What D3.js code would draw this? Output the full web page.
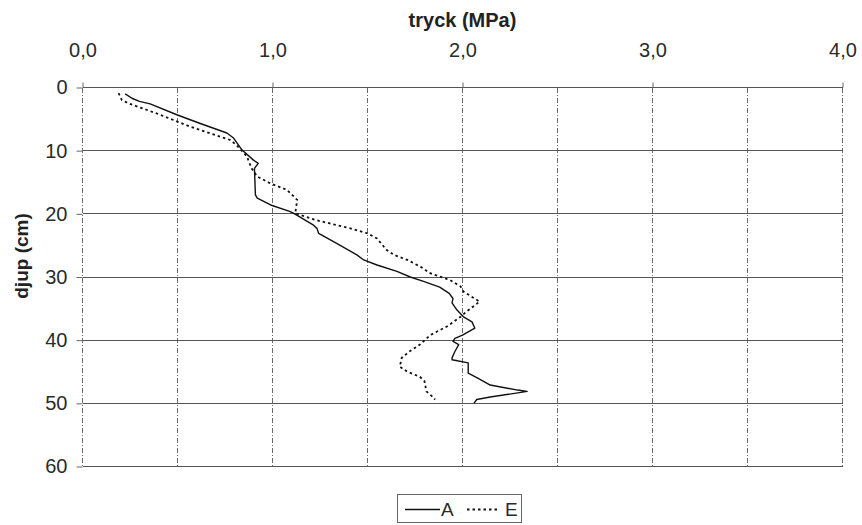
<!DOCTYPE html>
<html>
<head>
<meta charset="utf-8">
<script src="https://cdn.jsdelivr.net/npm/d3@7"></script>
<style>
  html, body { margin: 0; padding: 0; background: #fff; }
  svg { display: block; font-family: "Liberation Sans", Arial, sans-serif; }
</style>
</head>
<body>
<svg id="chart" width="862" height="525"></svg>
<script>
// ---- data ----
const xTicks = [0, 1, 2, 3, 4];
const xTickLabels = ["0,0", "1,0", "2,0", "3,0", "4,0"];
const yTicks = [0, 10, 20, 30, 40, 50, 60];
const seriesNames = ["A", "E"];

const depthA = [1.0, 1.7, 2.2, 2.6, 4.35, 5.7, 7.2, 8.0, 9.9, 11.5, 12.0, 12.8, 17.0, 17.5, 18.6, 19.6, 19.9, 21.8, 22.3, 23.1, 24.7, 26.5, 27.3, 28.1, 29.1, 30.0, 30.7, 31.6, 32.6, 33.4, 34.1, 35.2, 36.3, 37.1, 38.1, 39.2, 39.7, 40.2, 40.7, 41.8, 42.8, 43.1, 43.6, 45.2, 46.0, 47.1, 47.9, 48.1, 48.3, 49.0, 49.4, 50.0];
const pressureA = [0.225, 0.26, 0.30, 0.356, 0.50, 0.62, 0.76, 0.795, 0.84, 0.90, 0.925, 0.905, 0.91, 0.92, 0.99, 1.09, 1.11, 1.216, 1.234, 1.243, 1.34, 1.444, 1.48, 1.55, 1.655, 1.725, 1.795, 1.88, 1.93, 1.95, 1.945, 1.97, 2.005, 2.05, 2.065, 2.0, 1.96, 1.95, 1.98, 1.96, 1.945, 1.945, 2.03, 2.03, 2.08, 2.146, 2.29, 2.34, 2.30, 2.146, 2.075, 2.06];

const depthE = [0.9, 2.0, 2.6, 4.1, 6.2, 8.3, 9.1, 10.9, 12.8, 14.1, 15.2, 16.2, 17.8, 19.9, 21.0, 22.3, 23.1, 23.9, 25.7, 26.5, 27.3, 28.4, 29.4, 30.5, 31.5, 32.3, 33.9, 35.5, 36.3, 37.8, 39.2, 40.7, 41.8, 42.8, 44.2, 45.0, 45.8, 46.5, 48.1, 48.9, 49.4];
const pressureE = [0.19, 0.207, 0.25, 0.39, 0.567, 0.777, 0.81, 0.865, 0.89, 0.92, 0.99, 1.076, 1.13, 1.12, 1.23, 1.41, 1.50, 1.55, 1.60, 1.64, 1.71, 1.78, 1.83, 1.935, 1.99, 2.005, 2.09, 2.02, 1.99, 1.92, 1.83, 1.776, 1.72, 1.68, 1.67, 1.71, 1.776, 1.80, 1.81, 1.84, 1.856];

// ---- layout ----
const svg = d3.select("#chart");
const x = d3.scaleLinear().domain([0, 4]).range([82.5, 842.5]);
const y = d3.scaleLinear().domain([0, 60]).range([87.5, 466.5]);

// vertical grid (dashed) every 0.5
const vGrid = d3.range(0, 4.01, 0.5);
svg.append("g").selectAll("line").data(vGrid).join("line")
  .attr("x1", d => x(d)).attr("x2", d => x(d))
  .attr("y1", y(0)).attr("y2", y(60))
  .attr("stroke", "#6a6a6a").attr("stroke-width", 1)
  .attr("stroke-dasharray", "5,2,1,2")
  .attr("shape-rendering", "crispEdges");

// horizontal grid (solid) every 10
svg.append("g").selectAll("line").data(yTicks).join("line")
  .attr("x1", x(0)).attr("x2", x(4))
  .attr("y1", d => y(d)).attr("y2", d => y(d))
  .attr("stroke", "#555").attr("stroke-width", 1)
  .attr("shape-rendering", "crispEdges");

// top axis
const xAxis = d3.axisTop(x).tickValues(xTicks).tickSize(5).tickPadding(26)
  .tickFormat((d, i) => xTickLabels[i]);
const gx = svg.append("g").attr("transform", `translate(0,${y(0)})`).call(xAxis);
gx.select(".domain").remove();
gx.selectAll(".tick line").attr("stroke", "#666");
gx.selectAll(".tick text").attr("font-size", 20).attr("fill", "#2a2a2a")
  .attr("font-family", "Liberation Sans, Arial, sans-serif");

// left axis
const yAxis = d3.axisLeft(y).tickValues(yTicks).tickSize(6).tickPadding(9);
const gy = svg.append("g").attr("transform", `translate(${x(0)},0)`).call(yAxis);
gy.select(".domain").remove();
gy.selectAll(".tick line").attr("stroke", "#666");
gy.selectAll(".tick text").attr("font-size", 20).attr("fill", "#2a2a2a")
  .attr("font-family", "Liberation Sans, Arial, sans-serif");

// axis titles
svg.append("text").attr("x", (x(0) + x(4)) / 2).attr("y", 27)
  .attr("text-anchor", "middle").attr("font-size", 20).attr("font-weight", "bold")
  .attr("fill", "#222").text("tryck (MPa)");
svg.append("text").attr("transform", `translate(28,256) rotate(-90)`)
  .attr("text-anchor", "middle").attr("font-size", 19).attr("font-weight", "bold")
  .attr("fill", "#222").text("djup (cm)");

// series
const line = d3.line().x(d => x(d[0])).y(d => y(d[1]));
const dataA = pressureA.map((p, i) => [p, depthA[i]]);
const dataE = pressureE.map((p, i) => [p, depthE[i]]);

svg.append("path").datum(dataE).attr("d", line)
  .attr("fill", "none").attr("stroke", "#111").attr("stroke-width", 1.8)
  .attr("stroke-dasharray", "2.5,3");
svg.append("path").datum(dataA).attr("d", line)
  .attr("fill", "none").attr("stroke", "#111").attr("stroke-width", 1.4)
  .attr("stroke-linejoin", "round");

// legend
const lg = svg.append("g");
lg.append("rect").attr("x", 397.5).attr("y", 494.5).attr("width", 124).attr("height", 28)
  .attr("fill", "#fff").attr("stroke", "#666").attr("stroke-width", 1);
lg.append("line").attr("x1", 405).attr("x2", 440).attr("y1", 509.5).attr("y2", 509.5)
  .attr("stroke", "#111").attr("stroke-width", 1.4);
lg.append("text").attr("x", 441).attr("y", 516).attr("font-size", 19).attr("fill", "#2a2a2a").text(seriesNames[0]);
lg.append("line").attr("x1", 467).attr("x2", 499).attr("y1", 509.5).attr("y2", 509.5)
  .attr("stroke", "#111").attr("stroke-width", 1.8).attr("stroke-dasharray", "2.5,3");
lg.append("text").attr("x", 505).attr("y", 516).attr("font-size", 19).attr("fill", "#2a2a2a").text(seriesNames[1]);
</script>
</body>
</html>
